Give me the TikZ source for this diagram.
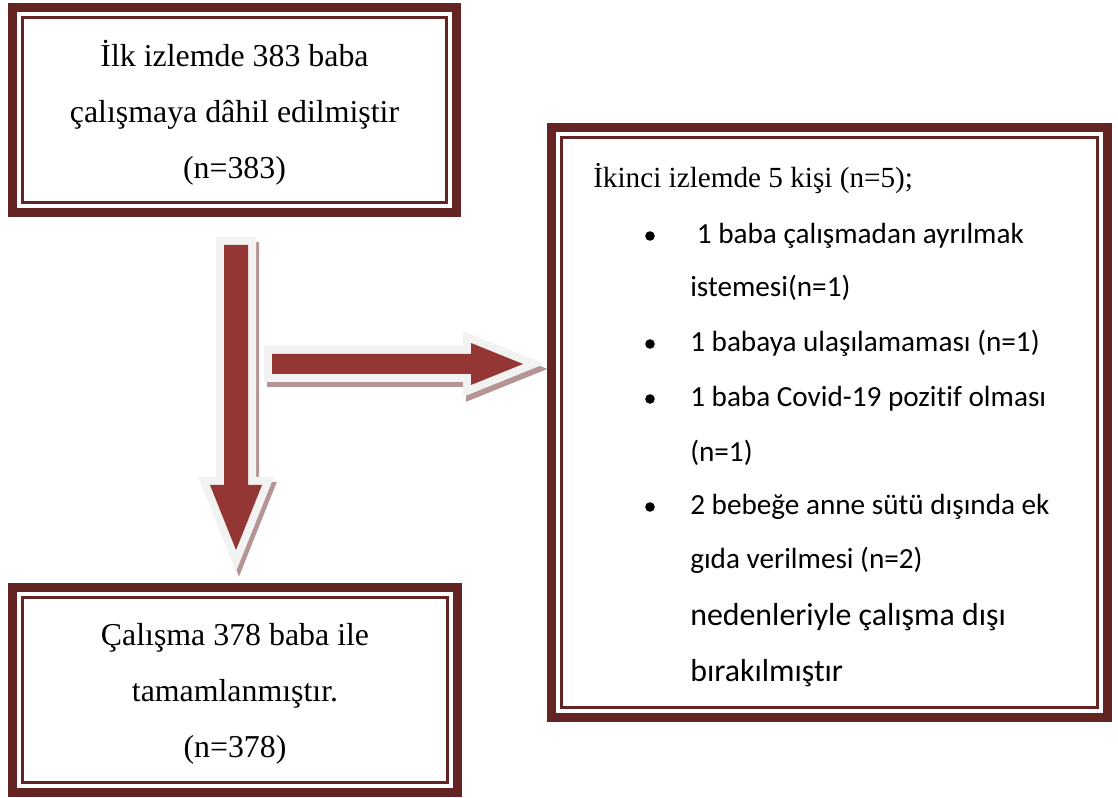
\documentclass[tikz,border=0pt]{standalone}
\usepackage{fontspec}
\setmainfont{Liberation Serif}
\newfontfamily\calibri[Ligatures=NoCommon]{Carlito}
\usepackage{tikz}
\usetikzlibrary{fit,calc}
\definecolor{framered}{HTML}{632423}
\definecolor{arrowred}{HTML}{943634}
\definecolor{arrowedge}{HTML}{F2F2F2}
\definecolor{arrowshade}{HTML}{B49494}
\tikzset{
  frame/.style={draw=framered, line width=6.75pt, inner sep=0pt, outer sep=0pt},
  innerline/.style={draw=framered, line width=2.25pt},
  blockarrow/.style={fill=arrowred,
                     preaction={draw=arrowedge, line width=12pt, line join=miter}},
  blockshade/.style={fill=arrowshade, draw=arrowshade, line width=12pt, line join=miter},
  bigtext/.style={font=\fontsize{23.9}{42}\selectfont, align=center, inner sep=0pt},
  headtext/.style={font=\fontsize{21.9}{26}\selectfont, anchor=base west, inner sep=0pt},
  itemtext/.style={font=\calibri\fontsize{21.9}{26}\selectfont, anchor=base west, inner sep=0pt},
  endtext/.style={font=\calibri\fontsize{23.9}{28}\selectfont, anchor=base west, inner sep=0pt},
}

\begin{document}
\begin{tikzpicture}[x=0.75pt, y=-0.75pt]
  \useasboundingbox (0,0) rectangle (1118,798);

  % frames
  \node[frame, fit={(12.5,7.8) (456.5,212.5)}] (first) {};
  \draw[innerline] ([shift={(10,10)}]first.north west) rectangle ([shift={(-10,-10)}]first.south east);
  \node[frame, fit={(12.5,587.5) (457.5,792.5)}] (last) {};
  \draw[innerline] ([shift={(10,10)}]last.north west) rectangle ([shift={(-10,-10)}]last.south east);
  \node[frame, fit={(551.5,127.5) (1107.5,717.5)}] (excluded) {};
  \draw[innerline] ([shift={(10,10)}]excluded.north west) rectangle ([shift={(-10,-10)}]excluded.south east);

  % box texts
  \node[bigtext] (firsttext) at (234.5,113) {İlk izlemde 383 baba\\çalışmaya dâhil edilmiştir\\(n=383)};
  \node[bigtext] (lasttext) at (235,694) {Çalışma 378 baba ile\\tamamlanmıştır.\\(n=378)};

  % excluded list
  \node[headtext] (head) at (593,188) {İkinci izlemde 5 kişi (n=5);};
  \node[itemtext] (item1) at (690,244) {\ 1 baba çalışmadan ayrılmak};
  \node[itemtext] (item1b) at (690,297) {istemesi(n=1)};
  \node[itemtext] (item2) at (690,352) {1 babaya ulaşılamaması (n=1)};
  \node[itemtext] (item3) at (690,407) {1 baba Covid-19 pozitif olması};
  \node[itemtext] (item3b) at (690,462) {(n=1)};
  \node[itemtext] (item4) at (690,515) {2 bebeğe anne sütü dışında ek};
  \node[itemtext] (item4b) at (690,568) {gıda verilmesi (n=2)};
  \node[endtext] (reason) at (690,625) {nedenleriyle çalışma dışı};
  \node[endtext] (reasonb) at (690,681) {bırakılmıştır};
  \foreach \y in {244,352,407,515}
    \fill (650,\y-8) circle[radius=3.6pt];

  % block arrows
  \coordinate (downtail) at (236,245);
  \coordinate (righttail) at (272,364);
  \path[blockshade] ([shift={(3,5)}]downtail) ++(-12,0) -- ++(24,0) -- ++(0,240) -- ++(14,0)
    -- ++(-26,65) -- ++(-26,-65) -- ++(14,0) -- cycle;
  \path[blockshade] ([shift={(3,5)}]righttail) ++(0,-10) -- ++(199,0) -- ++(0,-11) -- ++(52,21)
    -- ++(-52,21) -- ++(0,-11) -- ++(-199,0) -- cycle;
  \path[blockarrow] (downtail) ++(-12,0) -- ++(24,0) -- ++(0,240) -- ++(14,0)
    -- ++(-26,65) -- ++(-26,-65) -- ++(14,0) -- cycle;
  \path[blockarrow] (righttail) ++(0,-10) -- ++(199,0) -- ++(0,-11) -- ++(52,21)
    -- ++(-52,21) -- ++(0,-11) -- ++(-199,0) -- cycle;
\end{tikzpicture}
\end{document}
